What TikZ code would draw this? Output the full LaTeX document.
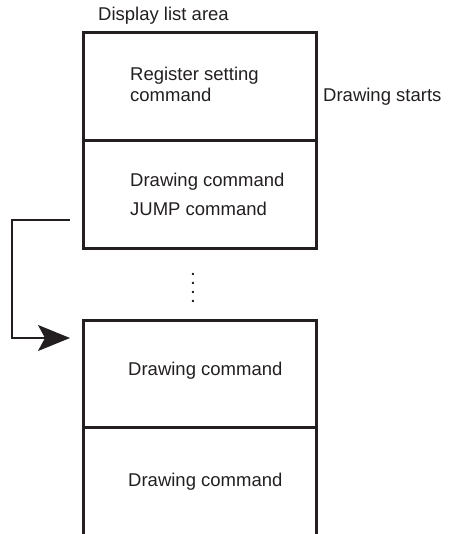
\documentclass[tikz,border=0pt]{standalone}
\usepackage{fontspec}
\setmainfont{Liberation Sans}
\usepackage{tikz}
\usetikzlibrary{positioning,arrows.meta}
\definecolor{inkcol}{RGB}{35,31,32}
\tikzset{
  listcell/.style={draw=inkcol, line width=3pt, minimum width=233pt, inner sep=0pt, outer sep=0pt},
  celltext/.style={text=inkcol, inner sep=0pt, anchor=base west, font=\fontsize{18.5}{21}\selectfont},
  cellline/.style={draw=inkcol, line width=3pt},
  jumparr/.style={draw=inkcol, line width=1.3pt, -{Stealth[length=32pt,width=26pt,inset=7pt]}}
}

\begin{document}
\begin{tikzpicture}[x=1pt,y=-1pt]
  \useasboundingbox (0,0) rectangle (470,534);

  % Header
  \node[celltext] (hdr) at (98,21) {Display list area};

  % First block: register setting + jump
  \node[listcell, minimum height=108pt] (reg) at (199.5,87) {};
  \node[listcell, minimum height=107pt] (jmp) at (199.5,194.5) {};
  \node[celltext] (regA) at (130,81) {Register setting};
  \node[celltext] (regB) at (130,102) {command};
  \node[celltext] (jmpA) at (130,187) {Drawing command};
  \node[celltext] (jmpB) at (130,216) {JUMP command};

  % Start label
  \node[celltext] (start) at (323,102) {Drawing starts};

  % Skipped area
  \node[text=inkcol, inner sep=0pt, align=center,
        font=\fontsize{21}{18}\selectfont] (skip) at (193,288.3) {:\\:};

  % Jump target block (open at the bottom)
  \node[listcell, minimum height=107pt] (dcA) at (199.5,373.5) {};
  \draw[cellline] (dcA.south west) -- (dcA.south west |- 0,534);
  \draw[cellline] (dcA.south east) -- (dcA.south east |- 0,534);
  \node[celltext] (dcAt) at (128,375) {Drawing command};
  \node[celltext] (dcBt) at (128,486) {Drawing command};

  % Jump connector
  \coordinate[below left=25.5pt and 13pt of jmp.west] (jsrc);
  \coordinate[above left=35.5pt and 13pt of dcA.west] (jdst);
  \draw[jumparr] (jsrc) -- ++(-58,0) |- (jdst);
\end{tikzpicture}
\end{document}
